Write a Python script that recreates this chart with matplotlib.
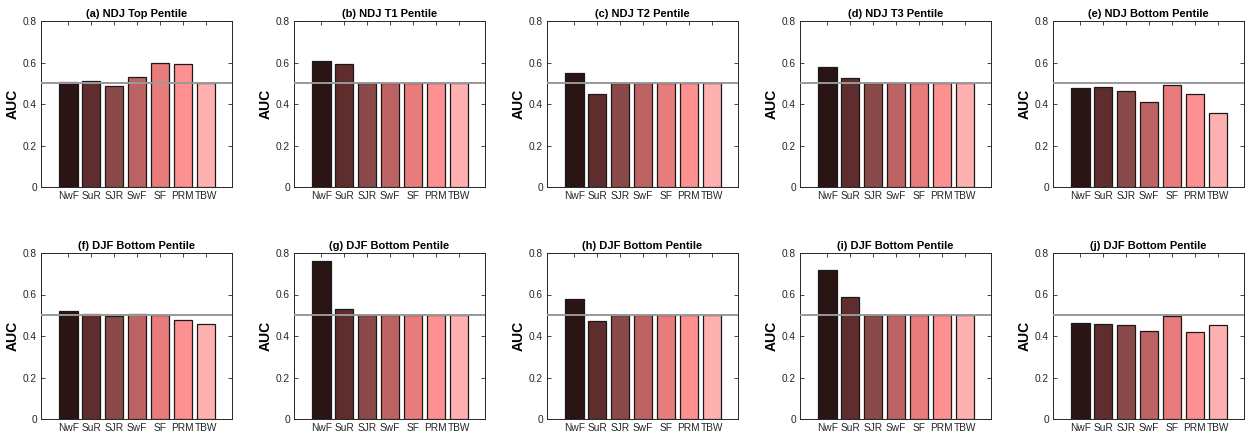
import numpy as np
import matplotlib
matplotlib.use('Agg')
import matplotlib.pyplot as plt

plt.rcParams['font.family'] = ['Liberation Sans', 'DejaVu Sans']

regions = ['NwF', 'SuR', 'SJR', 'SwF', 'SF', 'PRM', 'TBW']
colors = ['#2a1414', '#5f2d2d', '#8b4a4a', '#be6363', '#e87b7b', '#fd9191', '#ffb0b0']

titles = ['(a) NDJ Top Pentile', '(b) NDJ T1 Pentile', '(c) NDJ T2 Pentile',
          '(d) NDJ T3 Pentile', '(e) NDJ Bottom Pentile',
          '(f) DJF Bottom Pentile', '(g) DJF Bottom Pentile', '(h) DJF Bottom Pentile',
          '(i) DJF Bottom Pentile', '(j) DJF Bottom Pentile']

auc_a = [0.508, 0.511, 0.486, 0.528, 0.596, 0.595, 0.501]
auc_b = [0.605, 0.592, 0.5, 0.5, 0.5, 0.5, 0.5]
auc_c = [0.548, 0.446, 0.5, 0.5, 0.5, 0.5, 0.5]
auc_d = [0.578, 0.527, 0.5, 0.5, 0.5, 0.5, 0.5]
auc_e = [0.477, 0.483, 0.464, 0.412, 0.493, 0.448, 0.357]
auc_f = [0.519, 0.508, 0.495, 0.508, 0.5, 0.479, 0.46]
auc_g = [0.761, 0.532, 0.5, 0.5, 0.5, 0.5, 0.5]
auc_h = [0.576, 0.471, 0.5, 0.5, 0.5, 0.5, 0.5]
auc_i = [0.72, 0.588, 0.5, 0.5, 0.5, 0.5, 0.5]
auc_j = [0.463, 0.459, 0.455, 0.423, 0.497, 0.417, 0.455]
all_auc = [auc_a, auc_b, auc_c, auc_d, auc_e, auc_f, auc_g, auc_h, auc_i, auc_j]

W, H = 1250, 437
fig = plt.figure(figsize=(W / 100, H / 100), dpi=100)

x = np.arange(1, 8)
for k in range(10):
    row, col = divmod(k, 5)
    left = (41 + col * 253) / W
    bottom = (1 - 187 / H) if row == 0 else (1 - 419 / H)
    ax = fig.add_axes([left, bottom, 191 / W, 166 / H])
    ax.bar(x, all_auc[k], width=0.8, color=colors, edgecolor='#1a1a1a', linewidth=0.9, zorder=2)
    ax.axhline(0.5, color='#999999', linewidth=1.4, zorder=3)
    ax.set_xlim(-0.2, 8.15)
    ax.set_ylim(0, 0.8)
    ax.set_yticks([0, 0.2, 0.4, 0.6, 0.8])
    ax.set_yticklabels(['0', '0.2', '0.4', '0.6', '0.8'])
    ax.set_xticks(x)
    ax.set_xticklabels(regions)
    ax.tick_params(direction='in', length=3, width=0.6, top=True, right=True,
                   labelsize=7.3, colors='#262626', pad=3)
    for s in ax.spines.values():
        s.set_color('#262626')
        s.set_linewidth(0.7)
    ax.set_title(titles[k], fontsize=8, fontweight='bold', pad=3)
    ax.set_ylabel('AUC', fontsize=10, fontweight='bold', labelpad=2)

fig.savefig('out.png', dpi=100)
